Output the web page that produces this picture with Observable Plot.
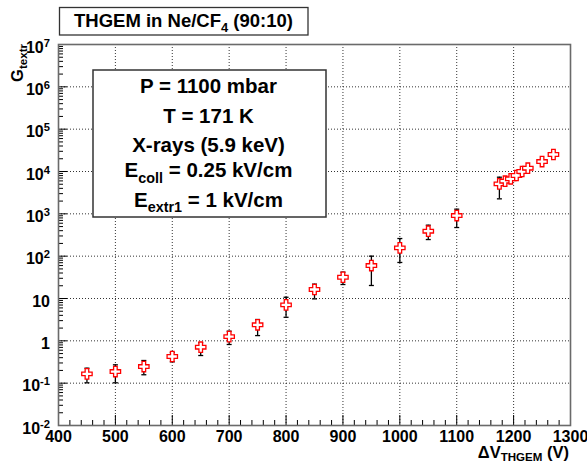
<!DOCTYPE html>
<html>
<head>
<meta charset="utf-8">
<script src="https://cdn.jsdelivr.net/npm/d3@7"></script>
<script src="https://cdn.jsdelivr.net/npm/@observablehq/plot@0.6"></script>
<style>
  html, body { margin: 0; padding: 0; background: #fff; }
  svg { font-family: "Liberation Sans", Arial, sans-serif; }
</style>
</head>
<body>
<div id="chart"></div>
<script>
// ---- data ----
const voltage  = [450, 500, 550, 600, 650, 700, 750, 800, 850, 900, 950, 1000, 1050, 1100, 1175, 1185, 1195, 1205, 1215, 1225, 1250, 1270];
const gain     = [0.166, 0.188, 0.247, 0.426, 0.708, 1.26, 2.39, 7.08, 16.3, 31.8, 60, 157, 389, 912, 5100, 5900, 6720, 8040, 10000, 11970, 17200, 25200];
const gainHigh = [0.226, 0.271, 0.343, 0.53, 0.90, 1.69, 3.19, 10.7, 21.8, 41.9, 100, 261, 539, 1288, 7330, 6300, 7150, 8550, 10600, 12700, 18200, 26700];
const gainLow  = [0.102, 0.102, 0.158, 0.319, 0.45, 0.82, 1.33, 3.6, 9.8, 21.4, 20.3, 71, 247, 475, 2260, 5500, 6300, 7550, 9400, 11250, 16200, 23700];

// ---- axes ticks / labels ----
const xMajor = [400, 500, 600, 700, 800, 900, 1000, 1100, 1200, 1300];
const yMajor = [1e-2, 1e-1, 1, 10, 1e2, 1e3, 1e4, 1e5, 1e6, 1e7];
const yTickLabels = ["10^{-2}", "10^{-1}", "1", "10", "10^{2}", "10^{3}", "10^{4}", "10^{5}", "10^{6}", "10^{7}"];
const xMinor = d3.range(420, 1300, 20).filter(v => v % 100 !== 0);
const yMinor = [];
for (let k = -2; k <= 6; k++) for (let m = 2; m <= 9; m++) yMinor.push(m * Math.pow(10, k));

// ---- texts ----
const titleText = "THGEM in Ne/CF_{4} (90:10)";
const infoLines = ["P = 1100 mbar", "T = 171 K", "X-rays (5.9 keV)", "E_{coll} = 0.25 kV/cm", "E_{extr1} = 1 kV/cm"];
const xTitle = "ΔV_{THGEM} (V)";
const yTitle = "G_{textr}";

const data = voltage.map((v, i) => ({v, g: gain[i], hi: gainHigh[i], lo: gainLow[i]}));
const yLabel = new Map(yMajor.map((v, i) => [v, yTickLabels[i]]));

// ---- layout ----
const W = 587, H = 465, mL = 58, mR = 17, mT = 44, mB = 40;
const plotW = W - mL - mR, plotH = H - mT - mB;

const openCross = {
  draw(ctx) {
    const a = 5.2, b = 1.8;
    ctx.moveTo(-b, -a); ctx.lineTo(b, -a); ctx.lineTo(b, -b); ctx.lineTo(a, -b);
    ctx.lineTo(a, b); ctx.lineTo(b, b); ctx.lineTo(b, a); ctx.lineTo(-b, a);
    ctx.lineTo(-b, b); ctx.lineTo(-a, b); ctx.lineTo(-a, -b); ctx.lineTo(-b, -b);
    ctx.closePath();
  }
};
const cap = { draw(ctx) { ctx.moveTo(-2.5, 0); ctx.lineTo(2.5, 0); } };

const gridStyle = {stroke: "#000", strokeOpacity: 0.8, strokeDasharray: "1,2", strokeWidth: 1};

const svg = Plot.plot({
  width: W, height: H,
  marginLeft: mL, marginRight: mR, marginTop: mT, marginBottom: mB,
  x: {domain: [400, 1300], label: null},
  y: {type: "log", domain: [1e-2, 1e7], label: null},
  style: {background: "#fff", color: "#000", fontFamily: "Liberation Sans, Arial, sans-serif"},
  marks: [
    Plot.gridX(xMajor.slice(1, -1), gridStyle),
    Plot.gridY(yMajor.slice(1, -1), gridStyle),
    Plot.tickX(xMajor, {x: d => d, insetTop: plotH - 10, stroke: "#000", strokeWidth: 1}),
    Plot.tickX(xMinor, {x: d => d, insetTop: plotH - 5, stroke: "#000", strokeWidth: 1}),
    Plot.tickY(yMajor, {y: d => d, insetRight: plotW - 9, stroke: "#000", strokeWidth: 1}),
    Plot.tickY(yMinor, {y: d => d, insetRight: plotW - 5, stroke: "#000", strokeWidth: 1}),
    Plot.frame({stroke: "#6a6a6a", strokeWidth: 1.6}),
    Plot.ruleX(data, {x: "v", y1: "lo", y2: "hi", stroke: "#000", strokeWidth: 1.3}),
    Plot.dot(data, {x: "v", y: "hi", symbol: cap, stroke: "#000", strokeWidth: 1.3}),
    Plot.dot(data, {x: "v", y: "lo", symbol: cap, stroke: "#000", strokeWidth: 1.3}),
    Plot.dot(data, {x: "v", y: "g", symbol: openCross, fill: "#fff", stroke: "#ff0000", strokeWidth: 1.3}),
    Plot.axisX(xMajor, {tickSize: 0, tickPadding: 5.5, tickFormat: d => String(d), fontSize: 16, fontWeight: "bold", label: null}),
    Plot.axisY(yMajor, {tickSize: 0, tickPadding: 8.5, tickFormat: d => yLabel.get(d), fontSize: 16, fontWeight: "bold", dy: 3, label: null})
  ]
});
document.getElementById("chart").appendChild(svg);

const NS = "http://www.w3.org/2000/svg";
function richify(el, str, fs, supShift = 0.38, subShift = 0.28) {
  el.textContent = "";
  const re = /([_^])\{([^}]*)\}/g;
  let last = 0, m, cur = 0;
  const add = (txt, kind) => {
    if (!txt) return;
    const ts = document.createElementNS(NS, "tspan");
    const target = kind === "^" ? -supShift * fs : kind === "_" ? subShift * fs : 0;
    const dy = target - cur;
    if (dy !== 0) ts.setAttribute("dy", dy);
    cur = target;
    if (kind) ts.setAttribute("font-size", (fs * 0.7) + "px");
    ts.textContent = txt;
    el.appendChild(ts);
  };
  while ((m = re.exec(str)) !== null) {
    add(str.slice(last, m.index), null);
    add(m[2], m[1]);
    last = re.lastIndex;
  }
  add(str.slice(last), null);
}

const root = d3.select(svg);
root.selectAll("text").each(function () {
  const t = this.textContent;
  if (/[_^]\{/.test(t)) richify(this, t, 16);
});

function addText(parent, str, x, y, fs, anchor, transform, subShift) {
  const t = parent.append("text")
    .attr("x", x).attr("y", y)
    .attr("font-size", fs + "px").attr("font-weight", "bold")
    .attr("text-anchor", anchor).attr("fill", "#000");
  if (transform) t.attr("transform", transform);
  richify(t.node(), str, fs, 0.38, subShift === undefined ? 0.28 : subShift);
  return t;
}

const ann = root.append("g");
// title box
ann.append("rect").attr("x", 59.5).attr("y", 7.5).attr("width", 248.5).attr("height", 27.5)
  .attr("fill", "#fff").attr("stroke", "#333").attr("stroke-width", 1.3);
addText(ann, titleText, 183.5, 27, 18.5, "middle");

// info box
ann.append("rect").attr("x", 93).attr("y", 70).attr("width", 233).attr("height", 147)
  .attr("fill", "#fff").attr("stroke", "#333").attr("stroke-width", 1.5);
const baselines = [93.3, 122.7, 151.7, 177, 206.5];
infoLines.forEach((s, i) => addText(ann, s, 208.5, baselines[i], 20.5, "middle"));

// axis titles
addText(ann, xTitle, 569, 457.5, 16.5, "end", null, 0.22);
addText(ann, yTitle, 0, 0, 16.5, "end", "translate(23,44) rotate(-90)", 0.22);
</script>
</body>
</html>
